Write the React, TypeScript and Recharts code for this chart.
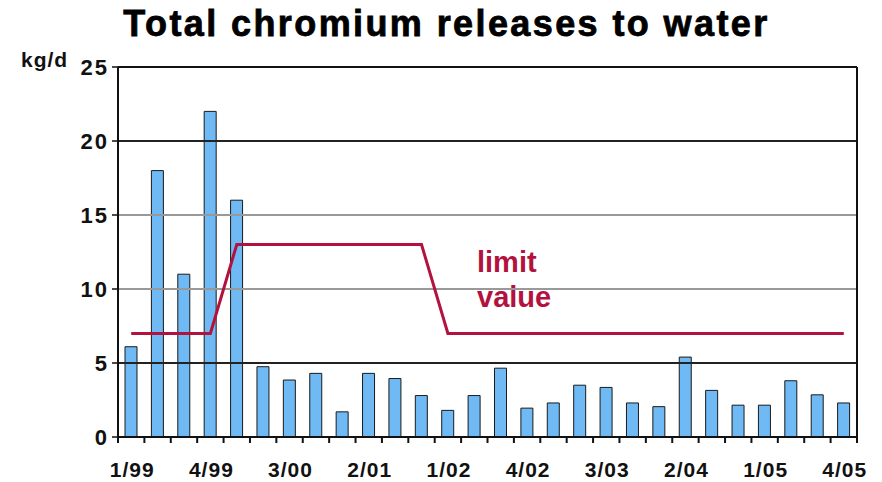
import React from "react";
import {
  ComposedChart,
  Bar,
  Line,
  XAxis,
  YAxis,
  ReferenceLine,
} from "recharts";

const quarters = [
  "1/99", "2/99", "3/99", "4/99",
  "1/00", "2/00", "3/00", "4/00",
  "1/01", "2/01", "3/01", "4/01",
  "1/02", "2/02", "3/02", "4/02",
  "1/03", "2/03", "3/03", "4/03",
  "1/04", "2/04", "3/04", "4/04",
  "1/05", "2/05", "3/05", "4/05",
];

const releases = [
  6.1, 18.0, 11.0, 22.0, 16.0, 4.75, 3.85, 4.3, 1.7, 4.3, 3.95, 2.8, 1.8, 2.8,
  4.65, 1.95, 2.3, 3.5, 3.35, 2.3, 2.05, 5.4, 3.15, 2.15, 2.15, 3.8, 2.85, 2.3,
];

const limitValue = [
  7, 7, 7, 7, 13, 13, 13, 13, 13, 13, 13, 13, 7, 7,
  7, 7, 7, 7, 7, 7, 7, 7, 7, 7, 7, 7, 7, 7,
];

const yTicks = [0, 5, 10, 15, 20, 25];
const gridLines = [
  { v: 5, color: "#222" },
  { v: 10, color: "#999" },
  { v: 15, color: "#999" },
  { v: 20, color: "#222" },
];

const data = quarters.map((q, i) => ({
  q,
  release: releases[i],
  limit: limitValue[i],
}));

const LIMIT_COLOR = "#b3123e";
const BAR_COLOR = "#6fbaf4";
const FONT = "'Liberation Sans', Arial, sans-serif";

const XTick = (props: any) => {
  const { x, y, payload, index } = props;
  const half = payload && payload.offset ? payload.offset : 13.2;
  const isLast = index === quarters.length - 1;
  return (
    <g>
      <line x1={x - half} y1={y} x2={x - half} y2={y + 6} stroke="#111" strokeWidth={2} />
      {isLast && (
        <line x1={x + half} y1={y} x2={x + half} y2={y + 6} stroke="#111" strokeWidth={2} />
      )}
      {index % 3 === 0 && (
        <text
          x={x + 1}
          y={y + 40}
          textAnchor="middle"
          fontFamily={FONT}
          fontWeight="bold"
          fontSize={21}
          letterSpacing={1}
          fill="#111"
        >
          {payload.value}
        </text>
      )}
    </g>
  );
};

export default function App() {
  return (
    <div
      style={{
        position: "absolute",
        left: 0,
        top: 0,
        width: 882,
        height: 482,
        background: "#fff",
      }}
    >
      <div
        style={{
          position: "absolute",
          left: 0,
          width: 893,
          top: 3,
          textAlign: "center",
          fontFamily: FONT,
          fontWeight: "bold",
          fontSize: 36,
          letterSpacing: 2.4,
          WebkitTextStroke: "0.8px #000",
          color: "#000",
          whiteSpace: "nowrap",
        }}
      >
        Total chromium releases to water
      </div>
      <div
        style={{
          position: "absolute",
          left: 21,
          top: 49,
          fontFamily: FONT,
          fontWeight: "bold",
          fontSize: 21,
          lineHeight: 1,
          letterSpacing: 1,
          color: "#111",
        }}
      >
        kg/d
      </div>
      <div
        style={{
          position: "absolute",
          left: 477,
          top: 245,
          fontFamily: FONT,
          fontWeight: "bold",
          fontSize: 29,
          lineHeight: "35px",
          color: LIMIT_COLOR,
        }}
      >
        limit
        <br />
        value
      </div>
      <ComposedChart
        width={882}
        height={482}
        data={data}
        margin={{ top: 67, right: 0, bottom: 0, left: 0 }}
        style={{ position: "absolute", left: 0, top: 0 }}
      >
        <XAxis
          dataKey="q"
          interval={0}
          height={45}
          tickLine={false}
          tickSize={0}
          tickMargin={0}
          axisLine={{ stroke: "#111", strokeWidth: 2 }}
          tick={<XTick />}
        />
        <YAxis
          yAxisId="l"
          domain={[0, 25]}
          ticks={yTicks}
          width={118}
          interval={0}
          tickSize={6}
          tickMargin={3}
          axisLine={{ stroke: "#111", strokeWidth: 2 }}
          tickLine={{ stroke: "#111", strokeWidth: 1.5 }}
          tick={{
            fill: "#111",
            fontSize: 22,
            fontWeight: "bold",
            fontFamily: FONT,
            letterSpacing: 2,
          }}
        />
        <YAxis
          yAxisId="r"
          orientation="right"
          domain={[0, 25]}
          width={25}
          tick={false}
          tickLine={false}
          axisLine={{ stroke: "#111", strokeWidth: 2 }}
        />
        {gridLines.map((g) => (
          <ReferenceLine
            key={g.v}
            yAxisId="l"
            y={g.v}
            stroke={g.color}
            strokeWidth={2}
          />
        ))}
        <ReferenceLine yAxisId="l" y={25} stroke="#111" strokeWidth={2} />
        <Bar
          yAxisId="l"
          dataKey="release"
          fill={BAR_COLOR}
          stroke="#1a1a1a"
          strokeWidth={1}
          barSize={12}
          isAnimationActive={false}
        />
        <Line
          yAxisId="l"
          type="linear"
          dataKey="limit"
          stroke={LIMIT_COLOR}
          strokeWidth={3}
          dot={false}
          isAnimationActive={false}
        />
      </ComposedChart>
    </div>
  );
}
